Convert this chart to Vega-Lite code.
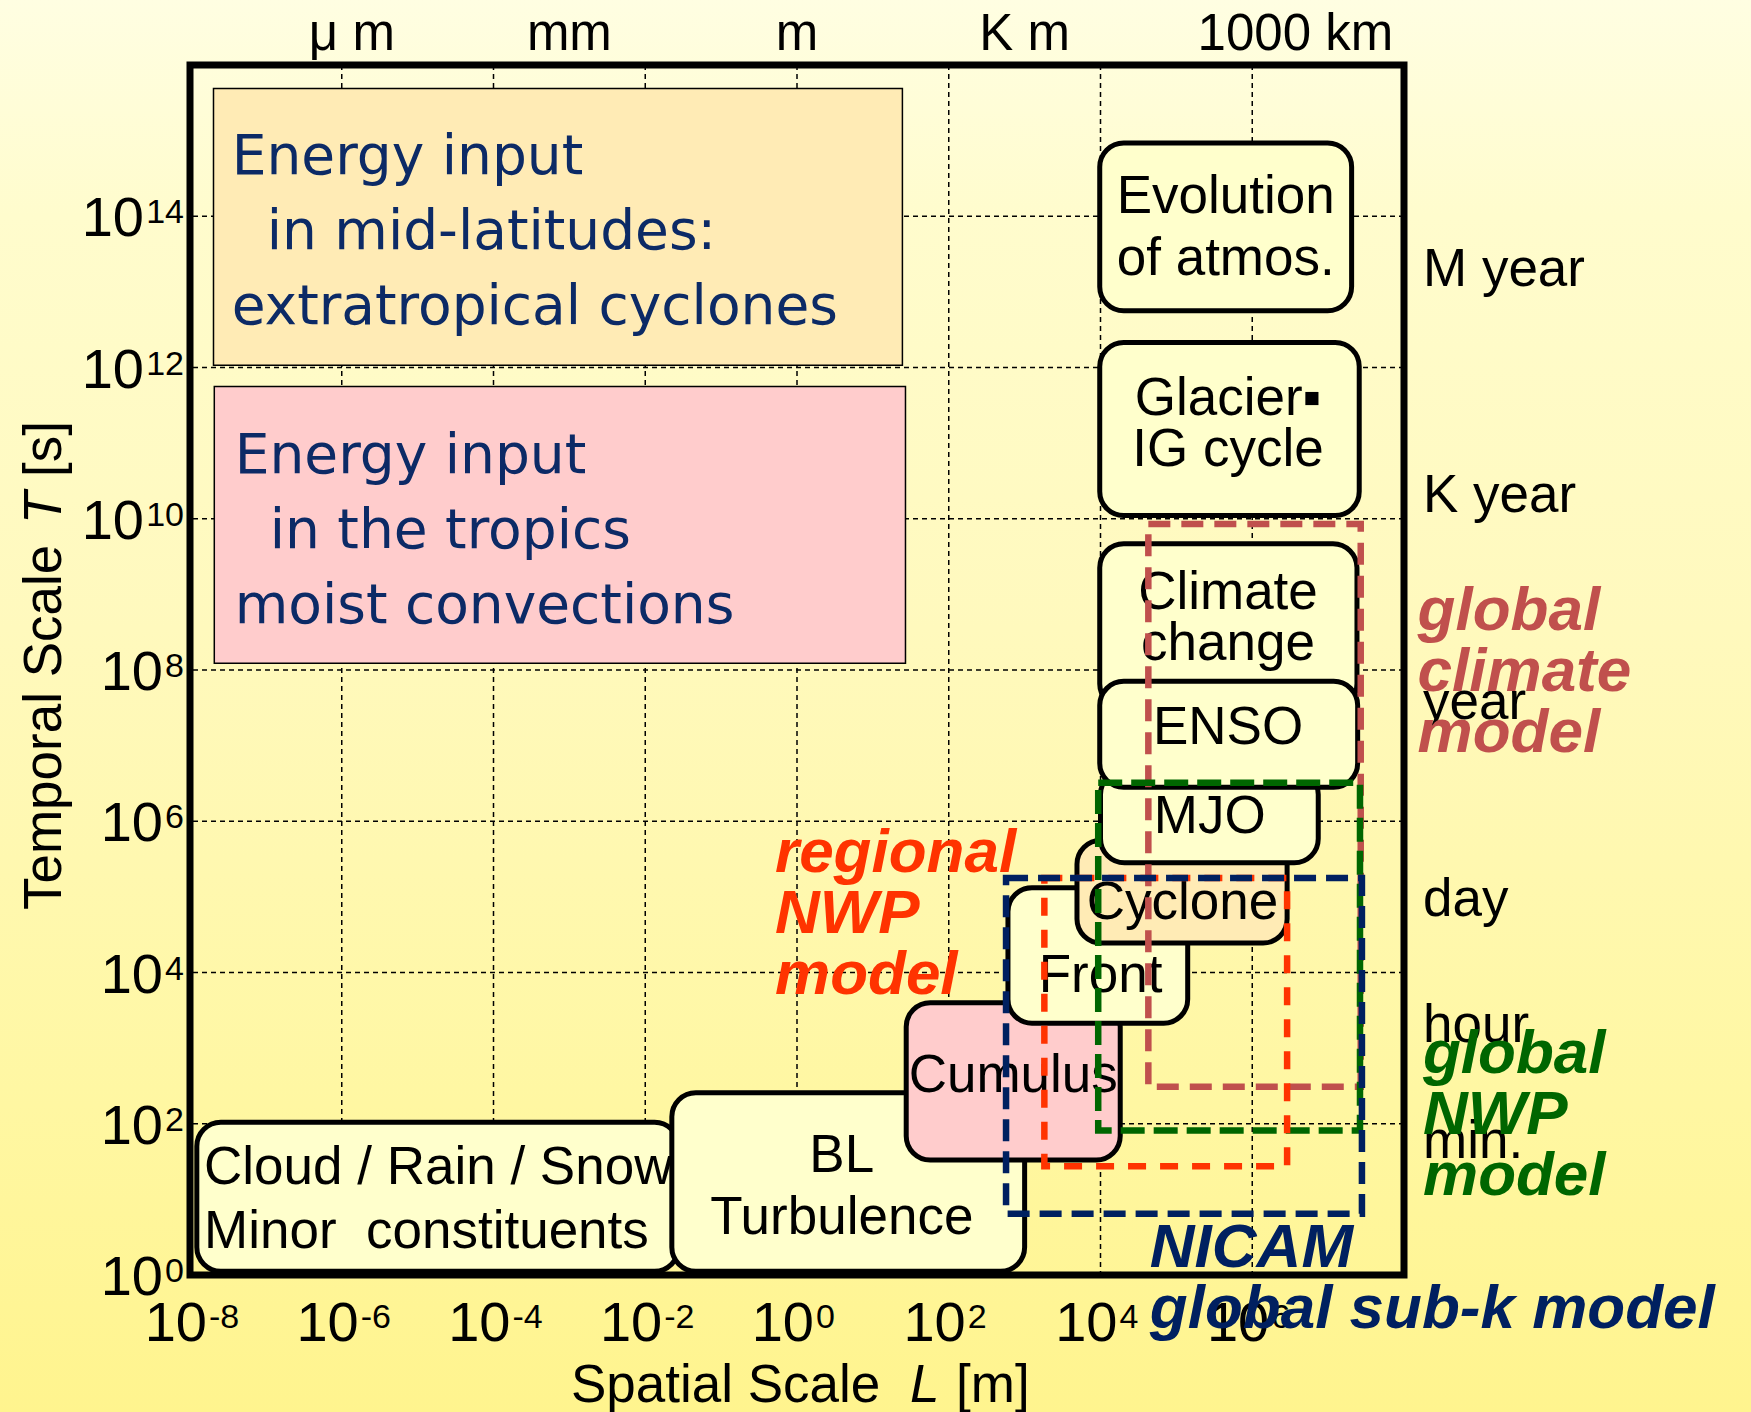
{
  "$schema": "https://vega.github.io/schema/vega-lite/v6.json",
  "width": 1214,
  "height": 1210,
  "autosize": {"type": "none"},
  "padding": {"left": 190, "top": 65, "right": 347, "bottom": 137},
  "background": "#FFF9C0",
  "config": {
    "view": {"stroke": null},
    "font": "Liberation Sans"
  },
  "datasets": {
    "bg": [{"x0": 1e-12, "x1": 1e14, "y0": 0.001, "y1": 1e18}],
    "frame": [{"x0": 1e-8, "x1": 1e8, "y0": 1, "y1": 1e16}],
    "gx": [{"v": 1e-6}, {"v": 1e-4}, {"v": 0.01}, {"v": 1}, {"v": 100}, {"v": 1e4}, {"v": 1e6}],
    "gy": [{"v": 100}, {"v": 1e4}, {"v": 1e6}, {"v": 1e8}, {"v": 1e10}, {"v": 1e12}, {"v": 1e14}],
    "xt": [{"v": 1e-8, "e": "-8"}, {"v": 1e-6, "e": "-6"}, {"v": 1e-4, "e": "-4"}, {"v": 0.01, "e": "-2"}, {"v": 1, "e": "0"}, {"v": 100, "e": "2"}, {"v": 1e4, "e": "4"}, {"v": 1e6, "e": "6"}],
    "yt": [{"v": 1, "e": "0"}, {"v": 100, "e": "2"}, {"v": 1e4, "e": "4"}, {"v": 1e6, "e": "6"}, {"v": 1e8, "e": "8"}, {"v": 1e10, "e": "10"}, {"v": 1e12, "e": "12"}, {"v": 1e14, "e": "14"}],
    "xtitle": [
      {"x": 1.05e-3, "label": "Spatial Scale", "it": false},
      {"x": 30.8, "label": "L", "it": true},
      {"x": 125, "label": "[m]", "it": false}
    ],
    "ytitle": [
      {"y": 67000, "label": "Temporal Scale", "it": false},
      {"y": 8.5e9, "label": "T", "it": true},
      {"y": 3.56e10, "label": "[s]", "it": false}
    ],
    "energy": [
      {"kind": "warm", "x0": 2.04e-8, "x1": 24.5, "y0": 4.9e15, "y1": 1.07e12},
      {"kind": "pink", "x0": 2.09e-8, "x1": 26.9, "y0": 5.62e11, "y1": 1.23e8}
    ],
    "boxes": [
      {"name": "Cloud", "kind": "plain", "x0": 1.23e-8, "x1": 0.0275, "y0": 105, "y1": 1.12},
      {"name": "BL", "kind": "plain", "x0": 0.0224, "x1": 1000, "y0": 257, "y1": 1.12},
      {"name": "Cumulus", "kind": "pink", "x0": 27.5, "x1": 18200, "y0": 3981, "y1": 33.1},
      {"name": "Front", "kind": "plain", "x0": 603, "x1": 141000, "y0": 132000, "y1": 2138},
      {"name": "Cyclone", "kind": "warm", "x0": 4898, "x1": 2.88e6, "y0": 562000, "y1": 24500},
      {"name": "MJO", "kind": "plain", "x0": 10000, "x1": 7.41e6, "y0": 4.68e6, "y1": 282000},
      {"name": "Climate", "kind": "plain", "x0": 9770, "x1": 2.4e7, "y0": 4.68e9, "y1": 3.16e7},
      {"name": "ENSO", "kind": "plain", "x0": 9770, "x1": 2.45e7, "y0": 7.08e7, "y1": 2.82e6},
      {"name": "Glacier", "kind": "plain", "x0": 9770, "x1": 2.57e7, "y0": 2.14e12, "y1": 1.1e10},
      {"name": "Evolution", "kind": "plain", "x0": 9770, "x1": 2.04e7, "y0": 9.33e14, "y1": 5.62e12}
    ],
    "models": [
      {"model": "climate", "x0": 42700, "x1": 2.69e7, "y0": 8.51e9, "y1": 309},
      {"model": "gnwp", "x0": 9330, "x1": 2.63e7, "y0": 3.24e6, "y1": 81.3},
      {"model": "regional", "x0": 1820, "x1": 2.88e6, "y0": 178000, "y1": 27.5},
      {"model": "nicam", "x0": 569, "x1": 2.79e7, "y0": 178000, "y1": 6.46}
    ],
    "labels1": [
      {"x": 447000, "y": 1.78e14, "label": "Evolution\nof atmos."},
      {"x": 479000, "y": 1.7e7, "label": "ENSO"},
      {"x": 275000, "y": 1.15e6, "label": "MJO"},
      {"x": 120000, "y": 83200, "label": "Cyclone"},
      {"x": 10000, "y": 8913, "label": "Front"},
      {"x": 708, "y": 427, "label": "Cumulus"},
      {"x": 3.89, "y": 37.7, "label": "BL\nTurbulence"}
    ],
    "labels2": [
      {"x": 479000, "y": 3.89e11, "label": "Glacier▪\nIG cycle"},
      {"x": 479000, "y": 1.05e9, "label": "Climate\nchange"}
    ],
    "labels3": [
      {"x": 1.53e-8, "y": 26.0, "label": "Cloud / Rain / Snow\nMinor\u00a0 constituents"}
    ],
    "energytext": [
      {"x": 3.55e-8, "y": 3.63e14, "label": "Energy input\n\u200b\u00a0\u00a0in mid-latitudes:\nextratropical cyclones"},
      {"x": 3.89e-8, "y": 3.98e10, "label": "Energy input\n\u200b\u00a0\u00a0in the tropics\nmoist convections"}
    ],
    "modellabels": [
      {"model": "climate", "x": 1.51e8, "y": 3.39e8, "label": "global\nclimate\nmodel"},
      {"model": "regional", "x": 0.513, "y": 214000, "label": "regional\nNWP\nmodel"},
      {"model": "gnwp", "x": 1.78e8, "y": 468, "label": "global\nNWP\nmodel"},
      {"model": "nicam", "x": 44700, "y": 1.28, "label": "NICAM\nglobal sub-k model"}
    ],
    "timelabels": [
      {"x": 1.78e8, "y": 1.2e13, "label": "M year"},
      {"x": 1.78e8, "y": 1.23e10, "label": "K year"},
      {"x": 1.78e8, "y": 2.24e7, "label": "year"},
      {"x": 1.78e8, "y": 56200, "label": "day"},
      {"x": 1.78e8, "y": 1202, "label": "hour"},
      {"x": 1.78e8, "y": 35.5, "label": "min."}
    ],
    "units": [
      {"x": 1.36e-6, "y": 1.58e16, "label": "μ m"},
      {"x": 0.001, "y": 1.58e16, "label": "mm"},
      {"x": 1, "y": 1.58e16, "label": "m"},
      {"x": 1000, "y": 1.58e16, "label": "K m"},
      {"x": 3.7e6, "y": 1.58e16, "label": "1000 km"}
    ]
  },
  "layer": [
    {
      "data": {"name": "bg"},
      "mark": {"type": "rect", "fill": {"gradient": "linear", "x1": 0, "y1": 0, "x2": 0, "y2": 1, "stops": [
        {"offset": 0.054, "color": "#FFFEE2"},
        {"offset": 0.19, "color": "#FFFCCD"},
        {"offset": 0.45, "color": "#FFF9BD"},
        {"offset": 0.75, "color": "#FFF7A2"},
        {"offset": 0.9435, "color": "#FFF48E"}
      ]}},
      "encoding": {
        "x": {"field": "x0", "type": "quantitative", "scale": {"type": "log", "domain": [1e-8, 1e8], "nice": false}, "axis": null},
        "x2": {"field": "x1"},
        "y": {"field": "y0", "type": "quantitative", "scale": {"type": "log", "domain": [1, 1e16], "nice": false}, "axis": null},
        "y2": {"field": "y1"}
      }
    },
    {
      "data": {"name": "gx"},
      "mark": {"type": "rule", "stroke": "black", "strokeWidth": 1.5, "strokeDash": [5, 4]},
      "encoding": {"x": {"field": "v", "type": "quantitative", "scale": {"type": "log", "domain": [1e-8, 1e8], "nice": false}, "axis": null}}
    },
    {
      "data": {"name": "gy"},
      "mark": {"type": "rule", "stroke": "black", "strokeWidth": 1.5, "strokeDash": [5, 4]},
      "encoding": {"y": {"field": "v", "type": "quantitative", "scale": {"type": "log", "domain": [1, 1e16], "nice": false}, "axis": null}}
    },
    {
      "data": {"name": "xt"},
      "mark": {"type": "text", "text": "10", "align": "right", "baseline": "alphabetic", "dx": 17, "dy": 66, "fontSize": 56, "color": "black"},
      "encoding": {
        "x": {"field": "v", "type": "quantitative", "scale": {"type": "log", "domain": [1e-8, 1e8], "nice": false}, "axis": null},
        "y": {"datum": 1, "type": "quantitative", "scale": {"type": "log", "domain": [1, 1e16], "nice": false}, "axis": null}
      }
    },
    {
      "data": {"name": "xt"},
      "mark": {"type": "text", "align": "left", "baseline": "alphabetic", "dx": 19, "dy": 53, "fontSize": 34, "color": "black"},
      "encoding": {
        "x": {"field": "v", "type": "quantitative", "scale": {"type": "log", "domain": [1e-8, 1e8], "nice": false}, "axis": null},
        "y": {"datum": 1, "type": "quantitative", "scale": {"type": "log", "domain": [1, 1e16], "nice": false}, "axis": null},
        "text": {"field": "e"}
      }
    },
    {
      "data": {"name": "yt"},
      "transform": [{"filter": "length(datum.e) == 1"}],
      "mark": {"type": "text", "text": "10", "align": "right", "baseline": "alphabetic", "dx": -27, "dy": 20, "fontSize": 56, "color": "black"},
      "encoding": {
        "x": {"datum": 1e-8, "type": "quantitative", "scale": {"type": "log", "domain": [1e-8, 1e8], "nice": false}, "axis": null},
        "y": {"field": "v", "type": "quantitative", "scale": {"type": "log", "domain": [1, 1e16], "nice": false}, "axis": null}
      }
    },
    {
      "data": {"name": "yt"},
      "transform": [{"filter": "length(datum.e) == 2"}],
      "mark": {"type": "text", "text": "10", "align": "right", "baseline": "alphabetic", "dx": -46, "dy": 20, "fontSize": 56, "color": "black"},
      "encoding": {
        "x": {"datum": 1e-8, "type": "quantitative", "scale": {"type": "log", "domain": [1e-8, 1e8], "nice": false}, "axis": null},
        "y": {"field": "v", "type": "quantitative", "scale": {"type": "log", "domain": [1, 1e16], "nice": false}, "axis": null}
      }
    },
    {
      "data": {"name": "yt"},
      "mark": {"type": "text", "align": "right", "baseline": "alphabetic", "dx": -6, "dy": 7, "fontSize": 34, "color": "black"},
      "encoding": {
        "x": {"datum": 1e-8, "type": "quantitative", "scale": {"type": "log", "domain": [1e-8, 1e8], "nice": false}, "axis": null},
        "y": {"field": "v", "type": "quantitative", "scale": {"type": "log", "domain": [1, 1e16], "nice": false}, "axis": null},
        "text": {"field": "e"}
      }
    },
    {
      "data": {"name": "xtitle"},
      "transform": [{"filter": "!datum.it"}],
      "mark": {"type": "text", "align": "left", "baseline": "alphabetic", "dy": 127, "fontSize": 53, "color": "black"},
      "encoding": {
        "x": {"field": "x", "type": "quantitative", "scale": {"type": "log", "domain": [1e-8, 1e8], "nice": false}, "axis": null},
        "y": {"datum": 1, "type": "quantitative", "scale": {"type": "log", "domain": [1, 1e16], "nice": false}, "axis": null},
        "text": {"field": "label"}
      }
    },
    {
      "data": {"name": "xtitle"},
      "transform": [{"filter": "datum.it"}],
      "mark": {"type": "text", "align": "left", "baseline": "alphabetic", "dy": 127, "fontSize": 53, "fontStyle": "italic", "color": "black"},
      "encoding": {
        "x": {"field": "x", "type": "quantitative", "scale": {"type": "log", "domain": [1e-8, 1e8], "nice": false}, "axis": null},
        "y": {"datum": 1, "type": "quantitative", "scale": {"type": "log", "domain": [1, 1e16], "nice": false}, "axis": null},
        "text": {"field": "label"}
      }
    },
    {
      "data": {"name": "ytitle"},
      "transform": [{"filter": "!datum.it"}],
      "mark": {"type": "text", "align": "left", "baseline": "alphabetic", "angle": 270, "fontSize": 53, "color": "black"},
      "encoding": {
        "x": {"datum": 2e-10, "type": "quantitative", "scale": {"type": "log", "domain": [1e-8, 1e8], "nice": false}, "axis": null},
        "y": {"field": "y", "type": "quantitative", "scale": {"type": "log", "domain": [1, 1e16], "nice": false}, "axis": null},
        "text": {"field": "label"}
      }
    },
    {
      "data": {"name": "ytitle"},
      "transform": [{"filter": "datum.it"}],
      "mark": {"type": "text", "align": "left", "baseline": "alphabetic", "angle": 270, "fontSize": 53, "fontStyle": "italic", "color": "black"},
      "encoding": {
        "x": {"datum": 2e-10, "type": "quantitative", "scale": {"type": "log", "domain": [1e-8, 1e8], "nice": false}, "axis": null},
        "y": {"field": "y", "type": "quantitative", "scale": {"type": "log", "domain": [1, 1e16], "nice": false}, "axis": null},
        "text": {"field": "label"}
      }
    },
    {
      "data": {"name": "energy"},
      "mark": {"type": "rect", "stroke": "black", "strokeWidth": 1.5},
      "encoding": {
        "x": {"field": "x0", "type": "quantitative", "scale": {"type": "log", "domain": [1e-8, 1e8], "nice": false}, "axis": null},
        "x2": {"field": "x1"},
        "y": {"field": "y0", "type": "quantitative", "scale": {"type": "log", "domain": [1, 1e16], "nice": false}, "axis": null},
        "y2": {"field": "y1"},
        "fill": {"field": "kind", "type": "nominal", "scale": {"domain": ["plain", "warm", "pink"], "range": ["#FFFFCC", "#FFEBB5", "#FFCCCC"]}, "legend": null}
      }
    },
    {
      "data": {"name": "boxes"},
      "mark": {"type": "rect", "stroke": "black", "strokeWidth": 5, "cornerRadius": 24},
      "encoding": {
        "x": {"field": "x0", "type": "quantitative", "scale": {"type": "log", "domain": [1e-8, 1e8], "nice": false}, "axis": null},
        "x2": {"field": "x1"},
        "y": {"field": "y0", "type": "quantitative", "scale": {"type": "log", "domain": [1, 1e16], "nice": false}, "axis": null},
        "y2": {"field": "y1"},
        "fill": {"field": "kind", "type": "nominal", "scale": {"domain": ["plain", "warm", "pink"], "range": ["#FFFFCC", "#FFEBB5", "#FFCCCC"]}, "legend": null}
      }
    },
    {
      "data": {"name": "labels1"},
      "mark": {"type": "text", "align": "center", "baseline": "middle", "fontSize": 53, "lineHeight": 62, "lineBreak": "\n", "color": "black"},
      "encoding": {
        "x": {"field": "x", "type": "quantitative", "scale": {"type": "log", "domain": [1e-8, 1e8], "nice": false}, "axis": null},
        "y": {"field": "y", "type": "quantitative", "scale": {"type": "log", "domain": [1, 1e16], "nice": false}, "axis": null},
        "text": {"field": "label"}
      }
    },
    {
      "data": {"name": "labels2"},
      "mark": {"type": "text", "align": "center", "baseline": "middle", "fontSize": 53, "lineHeight": 51, "lineBreak": "\n", "color": "black"},
      "encoding": {
        "x": {"field": "x", "type": "quantitative", "scale": {"type": "log", "domain": [1e-8, 1e8], "nice": false}, "axis": null},
        "y": {"field": "y", "type": "quantitative", "scale": {"type": "log", "domain": [1, 1e16], "nice": false}, "axis": null},
        "text": {"field": "label"}
      }
    },
    {
      "data": {"name": "labels3"},
      "mark": {"type": "text", "align": "left", "baseline": "middle", "fontSize": 53, "lineHeight": 64, "lineBreak": "\n", "color": "black"},
      "encoding": {
        "x": {"field": "x", "type": "quantitative", "scale": {"type": "log", "domain": [1e-8, 1e8], "nice": false}, "axis": null},
        "y": {"field": "y", "type": "quantitative", "scale": {"type": "log", "domain": [1, 1e16], "nice": false}, "axis": null},
        "text": {"field": "label"}
      }
    },
    {
      "data": {"name": "energytext"},
      "mark": {"type": "text", "align": "left", "baseline": "alphabetic", "font": "DejaVu Sans", "fontSize": 55, "lineHeight": 75, "lineBreak": "\n", "color": "#0C2A66"},
      "encoding": {
        "x": {"field": "x", "type": "quantitative", "scale": {"type": "log", "domain": [1e-8, 1e8], "nice": false}, "axis": null},
        "y": {"field": "y", "type": "quantitative", "scale": {"type": "log", "domain": [1, 1e16], "nice": false}, "axis": null},
        "text": {"field": "label"}
      }
    },
    {
      "data": {"name": "models"},
      "transform": [{"filter": "datum.model == 'climate'"}],
      "mark": {"type": "rect", "filled": false, "stroke": "#C0504D", "strokeWidth": 6.5, "strokeDash": [22, 11]},
      "encoding": {
        "x": {"field": "x0", "type": "quantitative", "scale": {"type": "log", "domain": [1e-8, 1e8], "nice": false}, "axis": null},
        "x2": {"field": "x1"},
        "y": {"field": "y0", "type": "quantitative", "scale": {"type": "log", "domain": [1, 1e16], "nice": false}, "axis": null},
        "y2": {"field": "y1"}
      }
    },
    {
      "data": {"name": "models"},
      "transform": [{"filter": "datum.model == 'gnwp'"}],
      "mark": {"type": "rect", "filled": false, "stroke": "#006600", "strokeWidth": 6.5, "strokeDash": [24, 9]},
      "encoding": {
        "x": {"field": "x0", "type": "quantitative", "scale": {"type": "log", "domain": [1e-8, 1e8], "nice": false}, "axis": null},
        "x2": {"field": "x1"},
        "y": {"field": "y0", "type": "quantitative", "scale": {"type": "log", "domain": [1, 1e16], "nice": false}, "axis": null},
        "y2": {"field": "y1"}
      }
    },
    {
      "data": {"name": "models"},
      "transform": [{"filter": "datum.model == 'regional'"}],
      "mark": {"type": "rect", "filled": false, "stroke": "#FF3300", "strokeWidth": 6.5, "strokeDash": [18, 14]},
      "encoding": {
        "x": {"field": "x0", "type": "quantitative", "scale": {"type": "log", "domain": [1e-8, 1e8], "nice": false}, "axis": null},
        "x2": {"field": "x1"},
        "y": {"field": "y0", "type": "quantitative", "scale": {"type": "log", "domain": [1, 1e16], "nice": false}, "axis": null},
        "y2": {"field": "y1"}
      }
    },
    {
      "data": {"name": "models"},
      "transform": [{"filter": "datum.model == 'nicam'"}],
      "mark": {"type": "rect", "filled": false, "stroke": "#002060", "strokeWidth": 6.5, "strokeDash": [22, 10]},
      "encoding": {
        "x": {"field": "x0", "type": "quantitative", "scale": {"type": "log", "domain": [1e-8, 1e8], "nice": false}, "axis": null},
        "x2": {"field": "x1"},
        "y": {"field": "y0", "type": "quantitative", "scale": {"type": "log", "domain": [1, 1e16], "nice": false}, "axis": null},
        "y2": {"field": "y1"}
      }
    },
    {
      "data": {"name": "timelabels"},
      "mark": {"type": "text", "align": "left", "baseline": "alphabetic", "fontSize": 53, "color": "black"},
      "encoding": {
        "x": {"field": "x", "type": "quantitative", "scale": {"type": "log", "domain": [1e-8, 1e8], "nice": false}, "axis": null},
        "y": {"field": "y", "type": "quantitative", "scale": {"type": "log", "domain": [1, 1e16], "nice": false}, "axis": null},
        "text": {"field": "label"}
      }
    },
    {
      "data": {"name": "units"},
      "mark": {"type": "text", "align": "center", "baseline": "alphabetic", "fontSize": 51, "color": "black"},
      "encoding": {
        "x": {"field": "x", "type": "quantitative", "scale": {"type": "log", "domain": [1e-8, 1e8], "nice": false}, "axis": null},
        "y": {"field": "y", "type": "quantitative", "scale": {"type": "log", "domain": [1, 1e16], "nice": false}, "axis": null},
        "text": {"field": "label"}
      }
    },
    {
      "data": {"name": "modellabels"},
      "mark": {"type": "text", "align": "left", "baseline": "alphabetic", "fontSize": 62, "fontWeight": "bold", "fontStyle": "italic", "lineHeight": 61, "lineBreak": "\n"},
      "encoding": {
        "x": {"field": "x", "type": "quantitative", "scale": {"type": "log", "domain": [1e-8, 1e8], "nice": false}, "axis": null},
        "y": {"field": "y", "type": "quantitative", "scale": {"type": "log", "domain": [1, 1e16], "nice": false}, "axis": null},
        "text": {"field": "label"},
        "color": {"field": "model", "type": "nominal", "scale": {"domain": ["climate", "gnwp", "regional", "nicam"], "range": ["#C0504D", "#006600", "#FF3300", "#002060"]}, "legend": null}
      }
    },
    {
      "data": {"name": "frame"},
      "mark": {"type": "rect", "filled": false, "stroke": "black", "strokeWidth": 7},
      "encoding": {
        "x": {"field": "x0", "type": "quantitative", "scale": {"type": "log", "domain": [1e-8, 1e8], "nice": false}, "axis": null},
        "x2": {"field": "x1"},
        "y": {"field": "y0", "type": "quantitative", "scale": {"type": "log", "domain": [1, 1e16], "nice": false}, "axis": null},
        "y2": {"field": "y1"}
      }
    }
  ]
}
